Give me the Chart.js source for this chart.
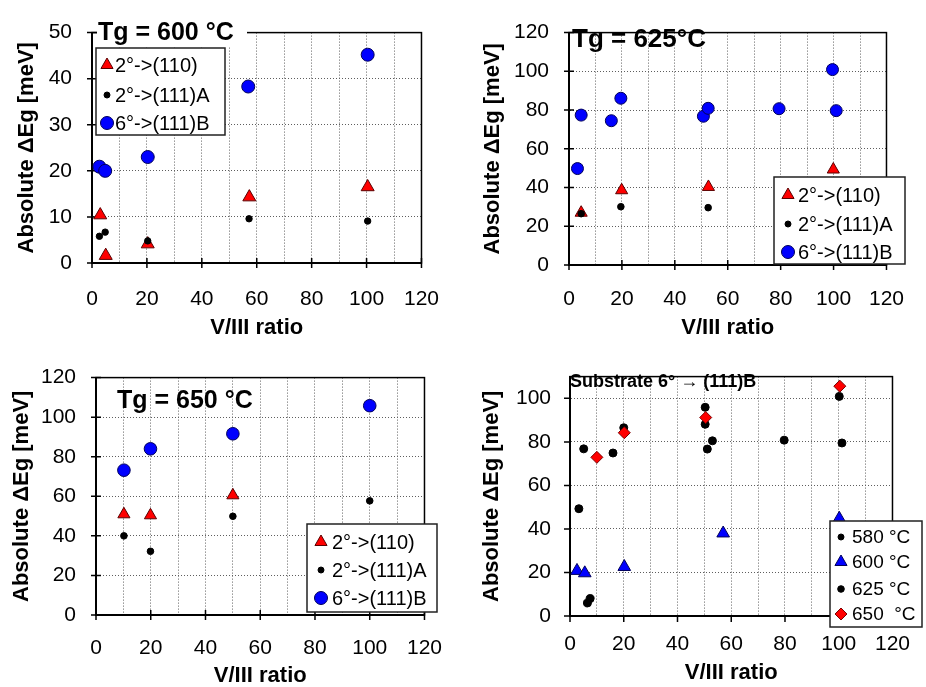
<!DOCTYPE html>
<html><head><meta charset="utf-8">
<script src="https://cdn.jsdelivr.net/npm/chart.js@4.4.1/dist/chart.umd.min.js"></script>
<style>
html,body{margin:0;padding:0;background:#fff;width:926px;height:687px;overflow:hidden;}
canvas{position:absolute;}
</style></head><body>
<canvas id="c1" width="463" height="345" style="left:0;top:0"></canvas>
<canvas id="c2" width="463" height="345" style="left:463px;top:0"></canvas>
<canvas id="c3" width="463" height="342" style="left:0;top:345px"></canvas>
<canvas id="c4" width="463" height="342" style="left:463px;top:345px"></canvas>
<script>
// ---------------- data ----------------
const xLabelTicks = [0, 20, 40, 60, 80, 100, 120];
const seriesLabels = ['2°->(110)', '2°->(111)A', '6°->(111)B'];
const xAxisTitle = 'V/III ratio';
const yAxisTitle = 'Absolute ΔEg [meV]';

// Tg = 600 °C
const t600Title = 'Tg = 600 °C';
const t600_110_x  = [3.0, 5.0, 20.3, 57.3, 100.4];
const t600_110_y  = [10.4, 1.6, 4.1, 14.3, 16.5];
const t600_111A_x = [2.7, 4.8, 20.3, 57.2, 100.4];
const t600_111A_y = [5.8, 6.7, 4.8, 9.6, 9.1];
const t600_111B_x = [2.7, 4.8, 20.3, 56.9, 100.4];
const t600_111B_y = [20.9, 20.0, 23.0, 38.3, 45.2];
const t600_yTicks = [0, 10, 20, 30, 40, 50];

// Tg = 625 °C
const t625Title = 'Tg = 625°C';
const t625_110_x  = [4.6, 19.9, 52.7, 99.9];
const t625_110_y  = [27.0, 38.6, 40.3, 49.3];
const t625_111A_x = [4.6, 19.6, 52.6];
const t625_111A_y = [26.5, 30.1, 29.6];
const t625_111B_x = [3.2, 4.6, 16.0, 19.6, 50.8, 52.6, 79.4, 99.6, 101.0];
const t625_111B_y = [49.8, 77.4, 74.5, 86.1, 76.8, 80.9, 80.7, 100.9, 79.7];
const t625_yTicks = [0, 20, 40, 60, 80, 100, 120];

// Tg = 650 °C
const t650Title = 'Tg = 650 °C';
const t650_110_x  = [10.2, 19.9, 50.0];
const t650_110_y  = [50.9, 50.4, 60.5];
const t650_111A_x = [10.2, 19.9, 50.0, 100.0];
const t650_111A_y = [40.0, 32.2, 49.9, 57.7];
const t650_111B_x = [10.2, 19.9, 50.0, 100.0];
const t650_111B_y = [73.2, 84.0, 91.6, 105.8];
const t650_yTicks = [0, 20, 40, 60, 80, 100, 120];

// Substrate 6° -> (111)B, by growth temperature
const subTitle = 'Substrate 6° \u2192 (111)B';
const tempLabels = ['580 °C', '600 °C', '625 °C', '650  °C'];
const s580_x = [6.5, 7.5, 50.3, 50.3];
const s580_y = [6.0, 8.0, 95.9, 88.1];
const s600_x = [2.6, 5.5, 20.2, 57.0, 100.2];
const s600_y = [20.8, 19.7, 22.6, 38.0, 44.8];
const s625_x = [3.3, 5.1, 16.0, 20.0, 51.1, 53.0, 79.7, 100.2, 101.2];
const s625_y = [49.3, 76.8, 74.9, 86.5, 76.7, 80.5, 80.8, 100.9, 79.5];
const s650_x = [10.0, 20.2, 50.5, 100.4];
const s650_y = [72.9, 84.2, 91.2, 105.6];
const sub_yTicks = [0, 20, 40, 60, 80, 100];

// ---------------- helpers ----------------
const FAM = "'Liberation Sans', Arial, Helvetica, sans-serif";
Chart.defaults.font.family = FAM;
Chart.defaults.color = '#000';
const GRID = '#5e5e5e';

function pts(xs, ys) { return xs.map((x, i) => ({x: x, y: ys[i]})); }

const RED = {pointStyle: 'triangle', backgroundColor: '#ff0000', borderColor: '#5a0000', borderWidth: 1};
const DOT = {pointStyle: 'circle', backgroundColor: '#000000', borderColor: '#000000', borderWidth: 1};
const BLUE = {pointStyle: 'circle', backgroundColor: '#0000ff', borderColor: '#00005a', borderWidth: 1};
const DIAM = {pointStyle: 'rectRot', backgroundColor: '#ff0000', borderColor: '#7a0000', borderWidth: 1};

function ds(label, data, style, r, order) {
  return Object.assign({label: label, data: data, pointRadius: r, order: order, clip: false, showLine: false,
    pointBackgroundColor: style.backgroundColor, pointBorderColor: style.borderColor,
    pointBorderWidth: style.borderWidth}, style);
}

function drawMarker(ctx, d, x, y, r) {
  ctx.save();
  ctx.setLineDash([]);
  ctx.fillStyle = d.backgroundColor;
  ctx.strokeStyle = d.borderColor;
  ctx.lineWidth = d.borderWidth;
  if (Chart.helpers && Chart.helpers.drawPoint) {
    Chart.helpers.drawPoint(ctx, {pointStyle: d.pointStyle, rotation: 0, radius: r, borderWidth: d.borderWidth}, x, y);
  } else {
    ctx.beginPath();
    if (d.pointStyle === 'triangle') {
      ctx.moveTo(x, y - r); ctx.lineTo(x + r * 0.866, y + r / 2); ctx.lineTo(x - r * 0.866, y + r / 2); ctx.closePath();
    } else if (d.pointStyle === 'rectRot') {
      ctx.moveTo(x - r, y); ctx.lineTo(x, y - r); ctx.lineTo(x + r, y); ctx.lineTo(x, y + r); ctx.closePath();
    } else {
      ctx.arc(x, y, r, 0, Math.PI * 2);
    }
    ctx.fill(); ctx.stroke();
  }
  ctx.restore();
}

const framePlugin = {
  id: 'frame',
  beforeDatasetsDraw(chart, args, o) {
    const ctx = chart.ctx, a = chart.chartArea, sx = chart.scales.x, sy = chart.scales.y;
    ctx.save();
    ctx.setLineDash([]);
    ctx.strokeStyle = '#000';
    ctx.lineWidth = 1.5;
    ctx.strokeRect(a.left, a.top, a.right - a.left, a.bottom - a.top);
    ctx.lineWidth = 2;
    ctx.beginPath();
    ctx.moveTo(a.left, a.top); ctx.lineTo(a.left, a.bottom); ctx.lineTo(a.right, a.bottom);
    ctx.stroke();
    ctx.lineWidth = 1.5;
    ctx.beginPath();
    o.xTicks.forEach(v => { const p = sx.getPixelForValue(v); ctx.moveTo(p, a.bottom - o.tin); ctx.lineTo(p, a.bottom + o.tout); });
    o.yTicks.forEach(v => { const p = sy.getPixelForValue(v); ctx.moveTo(a.left - o.tout, p); ctx.lineTo(a.left + o.tin, p); });
    ctx.stroke();
    ctx.restore();
  }
};

const annotPlugin = {
  id: 'annot',
  afterDraw(chart, args, o) {
    const ctx = chart.ctx;
    ctx.save();
    ctx.setLineDash([]);
    const t = o.title;
    if (t.bg) { ctx.fillStyle = '#fff'; ctx.fillRect(t.bg[0], t.bg[1], t.bg[2], t.bg[3]); }
    ctx.fillStyle = '#000';
    ctx.font = t.font;
    ctx.textAlign = 'left';
    ctx.textBaseline = 'alphabetic';
    ctx.fillText(t.text, t.x, t.y);
    const L = o.legend;
    ctx.fillStyle = '#fff';
    ctx.fillRect(L.box[0], L.box[1], L.box[2], L.box[3]);
    ctx.strokeStyle = '#222';
    ctx.lineWidth = 1.5;
    ctx.strokeRect(L.box[0], L.box[1], L.box[2], L.box[3]);
    L.items.forEach((it, i) => {
      const d = chart.data.datasets[it.ds];
      drawMarker(ctx, d, L.mx, L.rows[i], it.r);
      ctx.fillStyle = '#000';
      ctx.font = L.font;
      ctx.textBaseline = 'middle';
      ctx.fillText(d.label, L.tx, L.rows[i] + 1);
    });
    ctx.restore();
  }
};

function makePanel(c) {
  const canvas = document.getElementById(c.id);
  const W = canvas.width, H = canvas.height;
  const ox = c.off[0], oy = c.off[1];
  const pl = c.plot[0] - ox, pt = c.plot[1] - oy, pr = c.plot[2] - ox, pb = c.plot[3] - oy;
  const rel = (arr) => [arr[0] - ox, arr[1] - oy, arr[2], arr[3]];
  new Chart(canvas, {
    type: 'scatter',
    data: {datasets: c.datasets},
    options: {
      responsive: false, animation: false, events: [],
      layout: {padding: {left: 0, top: pt, right: W - pr, bottom: 0}},
      plugins: {
        legend: {display: false}, tooltip: {enabled: false},
        frame: {xTicks: xLabelTicks, yTicks: c.yTicks, tin: c.tin, tout: c.tout},
        annot: {
          title: {text: c.title.text, font: c.title.font, x: c.title.x - ox, y: c.title.y - oy, bg: c.title.bg ? rel(c.title.bg) : null},
          legend: {box: rel(c.legend.box), mx: c.legend.mx - ox, tx: c.legend.tx - ox, rows: c.legend.rows.map(r => r - oy),
                   font: c.legend.font, items: c.legend.items}
        }
      },
      scales: {
        x: {
          type: 'linear', position: 'bottom', min: 0, max: 120,
          afterFit: s => { s.height = H - pb; },
          ticks: {stepSize: 10, autoSkip: false, maxRotation: 0, padding: c.xTickPad, color: '#000',
                  font: {size: 21, family: FAM},
                  callback: v => xLabelTicks.includes(v) ? String(v) : ''},
          grid: {drawTicks: false, lineWidth: 1,
                 color: g => (g.tick && (g.tick.value === 0 || g.tick.value === 120)) ? 'rgba(0,0,0,0)' : GRID},
          border: {display: true, color: '#000', width: 2, dash: [1, 2]},
          title: {display: true, text: xAxisTitle, color: '#000',
                  font: {size: 22, weight: 'bold', family: FAM, lineHeight: 1},
                  padding: {top: 0, bottom: c.xTitlePad}}
        },
        y: {
          type: 'linear', position: 'left', min: c.yMin, max: c.yMax,
          afterFit: s => { s.width = pl; },
          afterBuildTicks: s => { s.ticks = c.yTicks.map(v => ({value: v})); },
          ticks: {padding: c.yTickPad, color: '#000', font: {size: 21, family: FAM}},
          grid: {drawTicks: false, lineWidth: 1,
                 color: g => (g.tick && (g.tick.value === c.yMin || g.tick.value === c.yMax)) ? 'rgba(0,0,0,0)' : GRID},
          border: {display: true, color: '#000', width: 2, dash: [1, 2]},
          title: {display: true, text: yAxisTitle, color: '#000',
                  font: {size: 22, weight: 'bold', family: FAM, lineHeight: 1},
                  padding: {top: c.yTitlePad, bottom: 0}}
        }
      }
    },
    plugins: [framePlugin, annotPlugin]
  });
}

// Panel 1: Tg = 600 °C
makePanel({
  id: 'c1', off: [0, 0], plot: [92, 19, 437, 263],
  yMin: 0, yMax: 50, yTicks: t600_yTicks,
  xTickPad: 24, xTitlePad: 6, yTickPad: 20, yTitlePad: 16, tin: 5, tout: 5,
  datasets: [
    ds(seriesLabels[0], pts(t600_110_x, t600_110_y), RED, 7.5, 3),
    ds(seriesLabels[1], pts(t600_111A_x, t600_111A_y), DOT, 3.2, 2),
    ds(seriesLabels[2], pts(t600_111B_x, t600_111B_y), BLUE, 6.5, 1)
  ],
  title: {text: t600Title, font: 'bold 25px ' + FAM, x: 98, y: 40, bg: [97, 8, 150, 38]},
  legend: {box: [96, 48, 129, 87], mx: 107, tx: 115, rows: [65, 95, 123], font: '20px ' + FAM,
           items: [{ds: 0, r: 7}, {ds: 1, r: 3}, {ds: 2, r: 6.5}]}
});

// Panel 2: Tg = 625 °C
makePanel({
  id: 'c2', off: [463, 0], plot: [569, 21, 905, 265],
  yMin: 0, yMax: 120, yTicks: t625_yTicks,
  xTickPad: 22, xTitlePad: 6, yTickPad: 20, yTitlePad: 19, tin: 5, tout: 5,
  datasets: [
    ds(seriesLabels[0], pts(t625_110_x, t625_110_y), RED, 7, 3),
    ds(seriesLabels[1], pts(t625_111A_x, t625_111A_y), DOT, 3.3, 2),
    ds(seriesLabels[2], pts(t625_111B_x, t625_111B_y), BLUE, 6, 1)
  ],
  title: {text: t625Title, font: 'bold 26px ' + FAM, x: 572, y: 47, bg: null},
  legend: {box: [774, 177, 131, 87], mx: 788, tx: 798, rows: [195, 224, 252], font: '20px ' + FAM,
           items: [{ds: 0, r: 7}, {ds: 1, r: 3}, {ds: 2, r: 6.5}]}
});

// Panel 3: Tg = 650 °C
makePanel({
  id: 'c3', off: [0, 345], plot: [96, 373, 440, 615],
  yMin: 0, yMax: 120, yTicks: t650_yTicks,
  xTickPad: 21, xTitlePad: 0, yTickPad: 20, yTitlePad: 11, tin: 5, tout: 5,
  datasets: [
    ds(seriesLabels[0], pts(t650_110_x, t650_110_y), RED, 7, 3),
    ds(seriesLabels[1], pts(t650_111A_x, t650_111A_y), DOT, 3.3, 2),
    ds(seriesLabels[2], pts(t650_111B_x, t650_111B_y), BLUE, 6.3, 1)
  ],
  title: {text: t650Title, font: 'bold 25px ' + FAM, x: 117, y: 408, bg: null},
  legend: {box: [307, 524, 130, 88], mx: 321, tx: 332, rows: [542, 570, 598], font: '20px ' + FAM,
           items: [{ds: 0, r: 7}, {ds: 1, r: 3}, {ds: 2, r: 6.5}]}
});

// Panel 4: Substrate 6° -> (111)B
makePanel({
  id: 'c4', off: [463, 345], plot: [570, 372, 907, 616],
  yMin: 0, yMax: 110, yTicks: sub_yTicks,
  xTickPad: 16, xTitlePad: 3, yTickPad: 19, yTitlePad: 18, tin: 0, tout: 6,
  datasets: [
    ds(tempLabels[0], pts(s580_x, s580_y), DOT, 4, 4),
    ds(tempLabels[1], pts(s600_x, s600_y), {pointStyle: 'triangle', backgroundColor: '#0000ff', borderColor: '#00005a', borderWidth: 1}, 7.3, 3),
    ds(tempLabels[2], pts(s625_x, s625_y), DOT, 4, 2),
    ds(tempLabels[3], pts(s650_x, s650_y), DIAM, 6, 1)
  ],
  title: {text: subTitle, font: 'bold 18px ' + FAM, x: 570, y: 387, bg: null},
  legend: {box: [830, 521, 92, 106], mx: 841, tx: 852, rows: [537, 562, 589, 614], font: '19px ' + FAM,
           items: [{ds: 0, r: 3}, {ds: 1, r: 7}, {ds: 2, r: 3.3}, {ds: 3, r: 6}]}
});
</script>
</body></html>
